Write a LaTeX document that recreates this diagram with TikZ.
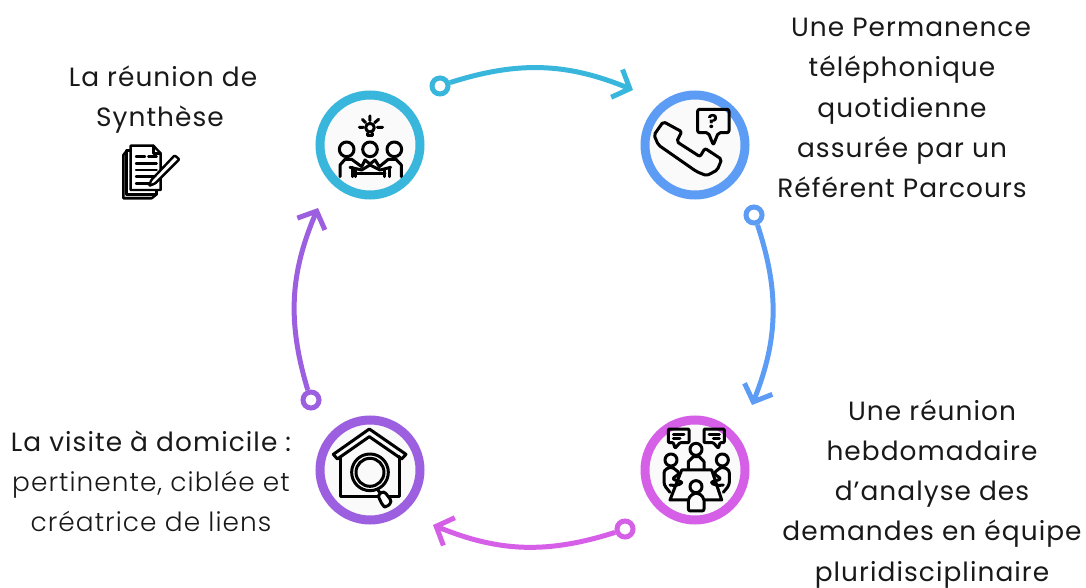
\documentclass[tikz,border=0pt]{standalone}
\usepackage{fontspec}
\setmainfont{Poppins}[LetterSpace=4]
\newfontfamily\lightfont{Poppins Light}[LetterSpace=4]
\usetikzlibrary{arrows.meta, positioning}

\definecolor{cyanring}{HTML}{38B6DB}
\definecolor{bluering}{HTML}{5C9CF5}
\definecolor{pinkring}{HTML}{D55FE6}
\definecolor{violetring}{HTML}{9B5FE0}

\tikzset{
	ring/.style={circle, draw=#1, line width=9pt, fill=white!98!black, minimum size=100pt, inner sep=0pt},
	dotnode/.style={circle, draw=#1, line width=5pt, fill=white, minimum size=16pt, inner sep=0pt},
	flow/.style={draw=#1, line width=5pt, -{Straight Barb[length=14pt, width=30pt, line width=5pt]}},
	caption/.style={font=\fontsize{26.4}{40.1}\selectfont, align=center, text=black!90, inner sep=0pt},
	icon/.style={line width=3pt, line join=round, line cap=round, draw=black},
	zoomed/.style 2 args={shift={(#1pt,-#2pt)}, x=.3333pt, y=-.3333pt},
}

\begin{document}
\begin{tikzpicture}[x=1pt, y=-1pt]
	\useasboundingbox (0,0) rectangle (1086,588);

	\node[ring=cyanring] (synth) at (370,145) {};
	\node[ring=bluering] (phone) at (695,145) {};
	\node[ring=pinkring] (staff) at (695,470) {};
	\node[ring=violetring] (visit) at (370,470) {};

	\node[dotnode=cyanring] (synthdot) at (440,86) {};
	\node[dotnode=bluering] (phonedot) at (754,215) {};
	\node[dotnode=pinkring] (staffdot) at (625,529) {};
	\node[dotnode=violetring] (visitdot) at (311,400) {};
	\coordinate (phonetip) at (633,90);
	\coordinate (stafftip) at (752,405);
	\coordinate (visittip) at (433,525);
	\coordinate (synthtip) at (318,208);

	\draw[flow=cyanring] (synthdot) to[bend left=20] (phonetip);
	\draw[flow=bluering] (phonedot) to[bend left=20] (stafftip);
	\draw[flow=pinkring] (staffdot) to[bend left=20] (visittip);
	\draw[flow=violetring] (visitdot) to[bend left=20] (synthtip);

	\node[caption] (synthtext) at (163,100) {La réunion de\\\hspace*{-6pt}Synthèse};
	\node[caption] (phonetext) at (902,108) {\hspace*{18pt}Une Permanence\\téléphonique\\quotidienne\\assurée par un\\Référent Parcours};
	\node[caption] (stafftext) at (932,494) {Une réunion\\hebdomadaire\\d’analyse des\\demandes en équipe\\pluridisciplinaire};
	\node[caption] (visittext) at (151,481) {La visite à domicile :\\{\lightfont pertinente, ciblée et}\\{\lightfont créatrice de liens}};

	% meeting with bulb
	\begin{scope}[zoomed={300}{60}, icon]
		\draw (210,203) circle (13);
		\draw (203,220) -- (203,228) -- (217,228) -- (217,220);
		\draw (210,168) -- (210,182) (187,178) -- (197,188) (178,202) -- (190,202);
		\draw (232,202) -- (248,202) (224,188) -- (236,178);
		\foreach \hx in {140,210,283} \draw (\hx,268) circle (22);
		\draw (120,350) -- (120,315) -- (135,298) -- (155,298) -- (185,320) -- (195,300) -- (210,312) -- (225,300) -- (238,320) -- (265,298) -- (288,298) -- (304,315) -- (304,350);
		\draw (150,322) -- (185,330) -- (210,315) -- (240,330) -- (272,322);
		\draw (158,322) -- (158,350) (168,328) -- (168,350) (255,328) -- (255,350) (268,322) -- (268,350);
		\draw (168,340) -- (255,340);
	\end{scope}

	% handset and question
	\begin{scope}[zoomed={630}{80}, icon]
		\draw[rounded corners=2pt] (100,125) -- (155,155) -- (140,185) -- (210,230) -- (225,205) -- (275,238) -- (262,270) -- (230,287) -- (200,275) -- (85,195) -- (72,165) -- cycle;
		\draw[rounded corners=2pt] (203,88) -- (297,88) -- (297,158) -- (265,158) -- (250,195) -- (235,158) -- (203,158) -- cycle;
		\node[font=\fontsize{19}{19}\selectfont\bfseries, text=black] (ask) at (248,125) {?};
	\end{scope}

	% team at table
	\begin{scope}[zoomed={630}{405}, icon]
		\draw[rounded corners=1pt] (115,72) -- (177,72) -- (177,113) -- (150,113) -- (135,130) -- (130,113) -- (115,113) -- cycle;
		\draw[rounded corners=1pt] (222,72) -- (283,72) -- (283,113) -- (270,113) -- (265,130) -- (250,113) -- (222,113) -- cycle;
		\draw (130,87) -- (162,87) (130,100) -- (150,100) (237,87) -- (268,87) (250,100) -- (268,100);
		\foreach \hx/\hy in {198/133,123/165,277/165,198/245} \draw (\hx,\hy) circle (18);
		\draw (175,192) -- (175,170) -- (190,155) -- (208,155) -- (222,170) -- (222,192);
		\draw (155,195) -- (245,195) -- (275,285) -- (225,285) (175,285) -- (120,285) -- (155,195);
		\draw[rounded corners=3pt] (120,262) -- (102,240) -- (102,195) -- (125,185) -- (150,205) -- (125,222) -- (160,232) -- (140,242) -- (120,240);
		\draw[rounded corners=3pt] (280,262) -- (298,240) -- (298,195) -- (275,185) -- (250,205) -- (275,222) -- (240,232) -- (260,242) -- (280,240);
		\draw[rounded corners=2pt,fill=white!98!black] (175,318) -- (175,280) -- (190,265) -- (208,265) -- (222,280) -- (222,318) -- cycle;
	\end{scope}

	% house and lens
	\begin{scope}[zoomed={300}{385}, icon]
		\draw (100,208) -- (208,132) -- (318,208) -- (305,222) -- (208,155) -- (112,222) -- cycle;
		\draw (122,215) -- (122,335) -- (298,335) -- (298,215);
		\draw[fill=white!98!black] (210,262) circle (55);
		\draw (210,262) circle (42);
		\draw (233,314) -- (245,330);
		\draw[rounded corners=3pt, fill=white] (233,330) -- (252,318) -- (276,350) -- (258,368) -- (248,362) -- cycle;
	\end{scope}

	% sheets and pen
	\begin{scope}[zoomed={100}{130}, icon, line width=2.4pt]
		\draw[fill=black!25] (80,62) -- (70,75) -- (70,205) -- (155,205) -- (170,193) -- cycle;
		\draw[fill=white] (80,62) -- (80,193) -- (170,193) -- (170,62) -- cycle;
		\draw[fill=white] (92,47) -- (160,47) -- (182,70) -- (182,180) -- (92,180) -- cycle;
		\draw (160,47) -- (160,70) -- (182,70);
		\draw (108,80) -- (135,80) (145,80) -- (170,80) (108,100) -- (170,100) (108,120) -- (170,120) (108,140) -- (170,140) (108,160) -- (150,160);
		\draw[fill=white, rounded corners=1pt] (147,168) -- (154,150) -- (224,76) -- (238,88) -- (166,160) -- cycle;
	\end{scope}
\end{tikzpicture}
\end{document}
